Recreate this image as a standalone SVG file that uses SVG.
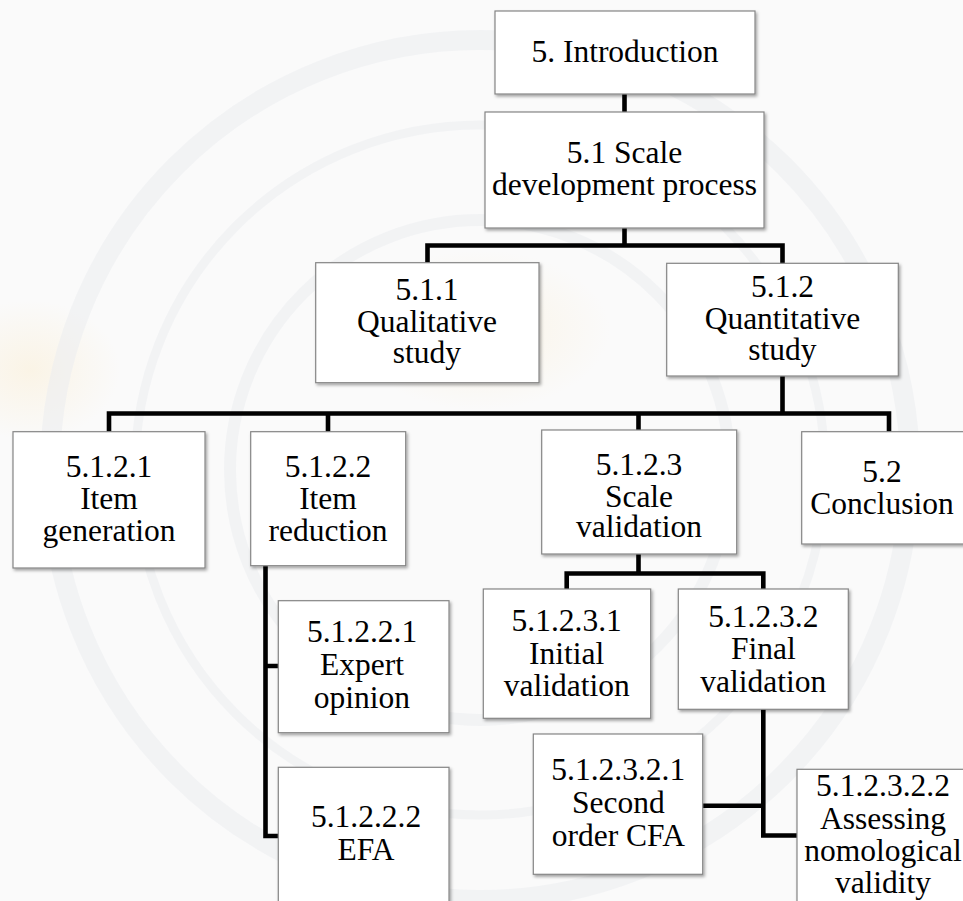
<svg xmlns="http://www.w3.org/2000/svg" width="963" height="901" viewBox="0 0 963 901">
  <defs>
    <filter id="shadow" x="-10%" y="-10%" width="125%" height="130%">
      <feDropShadow dx="1.5" dy="2" stdDeviation="1.5" flood-color="#000" flood-opacity="0.35"/>
    </filter>
    <radialGradient id="warm" cx="0.5" cy="0.5" r="0.5">
      <stop offset="0" stop-color="#fbeccd" stop-opacity="0.45"/>
      <stop offset="1" stop-color="#fbeccd" stop-opacity="0"/>
    </radialGradient>
  </defs>
  <style>
    .box { fill: #ffffff; stroke: #858585; stroke-width: 1.2; filter: url(#shadow); }
    .lbl { font-family: Tinos, FreeSerif, 'Liberation Serif', 'Times New Roman', serif; font-size: 31.5px; fill: #000; text-anchor: middle; }
    .wire { fill: none; stroke: #000; stroke-width: 4.6; stroke-linejoin: miter; stroke-linecap: square; }
    .mark { fill: none; stroke: #ebedf0; }
  </style>

  <!-- page background with faint seal watermark -->
  <rect x="0" y="0" width="963" height="901" fill="#fafafa"/>
  <ellipse cx="30" cy="370" rx="90" ry="70" fill="url(#warm)"/>
  <ellipse cx="480" cy="330" rx="130" ry="80" fill="url(#warm)"/>
  <g opacity="0.5">
    <circle class="mark" cx="480" cy="470" r="430" stroke-width="20"/>
    <circle class="mark" cx="480" cy="470" r="345" stroke-width="9"/>
    <circle class="mark" cx="480" cy="470" r="250" stroke-width="12"/>
  </g>

  <!-- connectors -->
  <g id="connectors" class="wire">
    <path d="M624.5 94 V112"/>
    <path d="M624.5 228 V245.5 M427.5 245.5 H782.5 M427.5 245.5 V263 M782.5 245.5 V263"/>
    <path d="M782.5 376 V413.5 M109 413.5 H889 M109 413.5 V431 M328 413.5 V431 M638.5 413.5 V430 M889 413.5 V431"/>
    <path d="M638.5 554 V573.5 M566.7 573.5 H763.3 M566.7 573.5 V589 M763.3 573.5 V589"/>
    <path d="M265.5 566 V836 H278 M265.5 666 H278"/>
    <path d="M763.3 709 V835.5 H797 M702.7 805.7 H763.3"/>
  </g>

  <g id="n-intro">
    <rect class="box" x="495" y="11" width="260" height="83"/>
    <text class="lbl" x="625" y="62">5. Introduction</text>
  </g>
  <g id="n-5-1">
    <rect class="box" x="485" y="112" width="279" height="116"/>
    <text class="lbl" x="624.5" y="163">5.1 Scale</text>
    <text class="lbl" x="624.5" y="195">development process</text>
  </g>
  <g id="n-5-1-1">
    <rect class="box" x="315.7" y="262.7" width="223.3" height="120"/>
    <text class="lbl" x="427" y="300">5.1.1</text>
    <text class="lbl" x="427" y="332">Qualitative</text>
    <text class="lbl" x="427" y="363">study</text>
  </g>
  <g id="n-5-1-2">
    <rect class="box" x="666.7" y="263.3" width="231.6" height="112.7"/>
    <text class="lbl" x="782.5" y="297">5.1.2</text>
    <text class="lbl" x="782.5" y="329">Quantitative</text>
    <text class="lbl" x="782.5" y="360">study</text>
  </g>
  <g id="n-5-1-2-1">
    <rect class="box" x="13" y="431.7" width="192" height="136.3"/>
    <text class="lbl" x="109" y="476.5">5.1.2.1</text>
    <text class="lbl" x="109" y="509">Item</text>
    <text class="lbl" x="109" y="540.5">generation</text>
  </g>
  <g id="n-5-1-2-2">
    <rect class="box" x="250.7" y="431.7" width="155" height="134"/>
    <text class="lbl" x="328" y="476.5">5.1.2.2</text>
    <text class="lbl" x="328" y="509">Item</text>
    <text class="lbl" x="328" y="540.5">reduction</text>
  </g>
  <g id="n-5-1-2-3">
    <rect class="box" x="541.7" y="430" width="195" height="124"/>
    <text class="lbl" x="639" y="475">5.1.2.3</text>
    <text class="lbl" x="639" y="506.5">Scale</text>
    <text class="lbl" x="639" y="537">validation</text>
  </g>
  <g id="n-5-2">
    <rect class="box" x="801.7" y="431.7" width="170" height="112.3"/>
    <text class="lbl" x="882" y="481.5">5.2</text>
    <text class="lbl" x="882" y="514">Conclusion</text>
  </g>
  <g id="n-5-1-2-2-1">
    <rect class="box" x="278.3" y="600.7" width="170.7" height="132"/>
    <text class="lbl" x="362" y="641.7">5.1.2.2.1</text>
    <text class="lbl" x="362" y="675">Expert</text>
    <text class="lbl" x="362" y="708">opinion</text>
  </g>
  <g id="n-5-1-2-2-2">
    <rect class="box" x="278.3" y="767.3" width="170.7" height="150"/>
    <text class="lbl" x="366" y="826.5">5.1.2.2.2</text>
    <text class="lbl" x="366" y="860">EFA</text>
  </g>
  <g id="n-5-1-2-3-1">
    <rect class="box" x="483.3" y="589" width="167.4" height="129.3"/>
    <text class="lbl" x="566.7" y="631">5.1.2.3.1</text>
    <text class="lbl" x="566.7" y="663.5">Initial</text>
    <text class="lbl" x="566.7" y="696">validation</text>
  </g>
  <g id="n-5-1-2-3-2">
    <rect class="box" x="678.3" y="589" width="170" height="120.3"/>
    <text class="lbl" x="763.3" y="626.5">5.1.2.3.2</text>
    <text class="lbl" x="763.3" y="659">Final</text>
    <text class="lbl" x="763.3" y="691.5">validation</text>
  </g>
  <g id="n-5-1-2-3-2-1">
    <rect class="box" x="533.3" y="734" width="169.4" height="140.3"/>
    <text class="lbl" x="618.3" y="780">5.1.2.3.2.1</text>
    <text class="lbl" x="618.3" y="812.5">Second</text>
    <text class="lbl" x="618.3" y="845.5">order CFA</text>
  </g>
  <g id="n-5-1-2-3-2-2">
    <rect class="box" x="797" y="769.3" width="180" height="150"/>
    <text class="lbl" x="883" y="796">5.1.2.3.2.2</text>
    <text class="lbl" x="883" y="828.5">Assessing</text>
    <text class="lbl" x="883" y="861">nomological</text>
    <text class="lbl" x="883" y="893">validity</text>
  </g>
</svg>
